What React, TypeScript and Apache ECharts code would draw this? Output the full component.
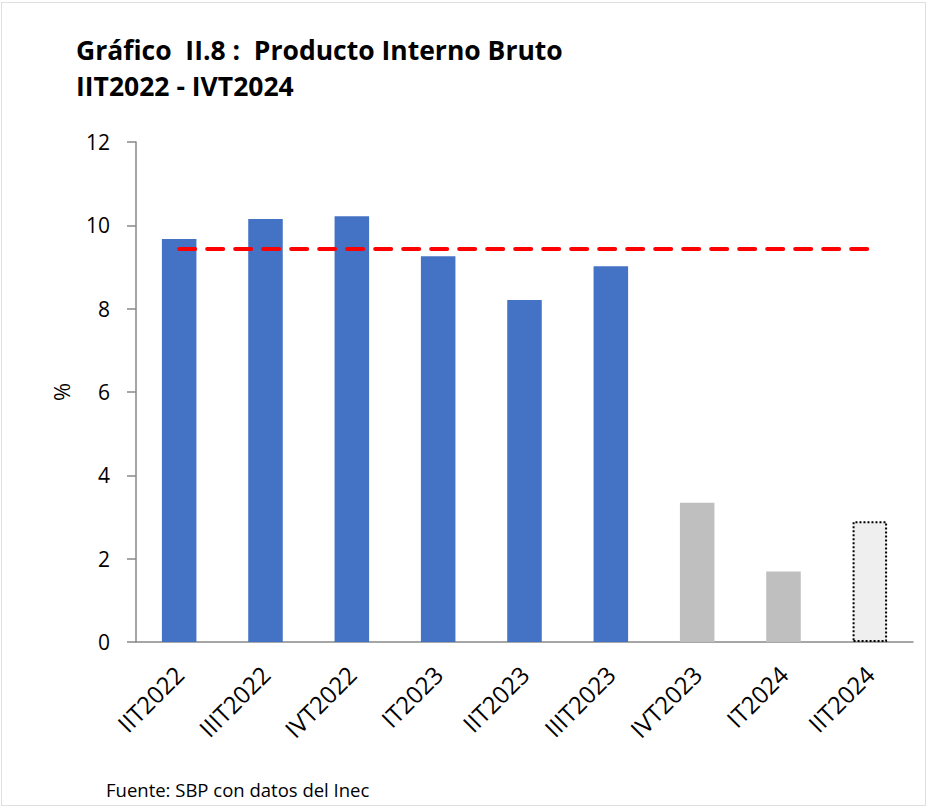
import React, { useEffect, useRef } from "react";
import * as echarts from "echarts";

const categories = ["IIT2022", "IIIT2022", "IVT2022", "IT2023", "IIT2023", "IIIT2023", "IVT2023", "IT2024", "IIT2024"];
const values = [9.67, 10.15, 10.22, 9.26, 8.21, 9.02, 3.34, 1.69, 2.9];
const barKinds = ["obs", "obs", "obs", "obs", "obs", "obs", "grey", "grey", "proj"];
const averageValue = 9.43;
const yTicks = [0, 2, 4, 6, 8, 10, 12];

const titleLines = ["Gráfico  II.8 :  Producto Interno Bruto", "IIT2022 - IVT2024"];
const sourceText = "Fuente: SBP con datos del Inec";

export default function App() {
  const ref = useRef<HTMLDivElement>(null);
  useEffect(() => {
    document.body.style.margin = "0";
    const chart = echarts.init(ref.current!, null, { renderer: "svg" });
    const styleFor = (k: string) => {
      if (k === "obs") return { color: "#4472C4" };
      if (k === "grey") return { color: "#BFBFBF" };
      return { color: "#EFEFEF", borderColor: "#000", borderType: "dotted", borderWidth: 2 };
    };
    chart.setOption({
      animation: false,
      backgroundColor: "#fff",
      textStyle: { fontFamily: "Open Sans" },
      grid: { left: 136, right: 14, top: 142, bottom: 165, containLabel: false },
      title: [
        {
          text: titleLines.join("\n"),
          left: 76,
          top: 32,
          padding: 0,
          textStyle: { fontFamily: "Open Sans", fontWeight: "bold", fontSize: 26.5, lineHeight: 36, color: "#000" },
        },
        {
          text: sourceText,
          left: 106,
          top: 780,
          padding: 0,
          textStyle: { fontFamily: "Open Sans", fontWeight: "normal", fontSize: 18.5, color: "#000" },
        },
      ],
      graphic: [
        {
          type: "rect",
          shape: { x: 1.5, y: 2.5, width: 924, height: 803 },
          style: { fill: "none", stroke: "#BFBFBF", lineWidth: 1, lineDash: [1, 1] },
          silent: true,
        },
      ],
      xAxis: {
        type: "category",
        data: categories,
        axisLine: { lineStyle: { color: "#898989", width: 1.5 } },
        axisTick: { show: false },
        axisLabel: { rotate: 45, fontSize: 24, color: "#000", margin: 28, interval: 0 },
      },
      yAxis: {
        type: "value",
        min: 0,
        max: 12,
        interval: 2,
        name: "%",
        nameLocation: "middle",
        nameGap: 64,
        nameRotate: 90,
        nameTextStyle: { fontSize: 22, color: "#000" },
        axisLine: { show: true, lineStyle: { color: "#898989", width: 1.5 } },
        axisTick: { show: true, length: 9, lineStyle: { color: "#898989", width: 1.5 } },
        splitLine: { show: false },
        axisLabel: { fontSize: 21, color: "#000", margin: 26, formatter: (v: number) => (yTicks.includes(v) ? String(v) : "") },
      },
      series: [
        {
          type: "bar",
          barWidth: "40%",
          data: values.map((v, i) => ({ value: v, itemStyle: styleFor(barKinds[i]) })),
        },
        {
          type: "line",
          data: categories.map(() => averageValue),
          symbol: "none",
          lineStyle: { color: "#FF0000", width: 4, type: [16, 12], cap: "round" },
          z: 5,
        },
      ],
    });
    return () => chart.dispose();
  }, []);
  return <div ref={ref} style={{ width: 927, height: 807 }} />;
}
